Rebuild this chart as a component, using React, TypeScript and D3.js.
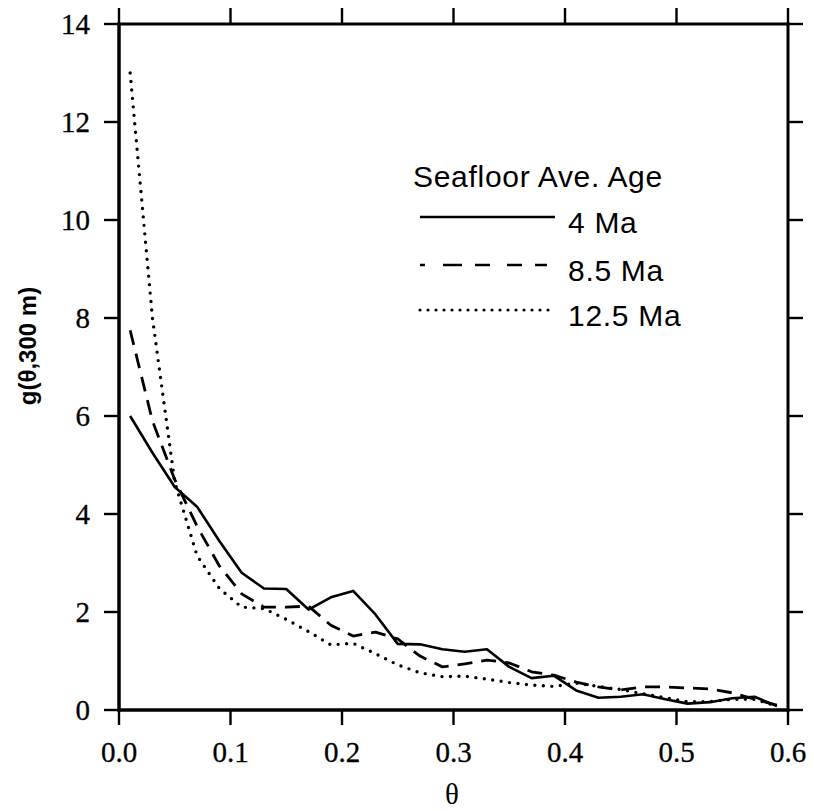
import React from "react";
import * as d3 from "d3";

const theta = [0.01,0.03,0.05,0.07,0.09,0.11,0.13,0.15,0.17,0.19,0.21,0.23,0.25,0.27,0.29,0.31,0.33,0.35,0.37,0.39,0.41,0.43,0.45,0.47,0.49,0.51,0.53,0.55,0.57,0.59];
const g4 = [6.0,5.25,4.55,4.15,3.45,2.80,2.48,2.47,2.05,2.30,2.43,1.95,1.35,1.34,1.24,1.19,1.24,0.88,0.65,0.70,0.40,0.25,0.27,0.32,0.22,0.13,0.16,0.24,0.27,0.08];
const g85 = [7.75,5.9,4.7,3.75,2.94,2.37,2.10,2.10,2.12,1.73,1.51,1.59,1.45,1.10,0.88,0.94,1.02,0.96,0.78,0.71,0.57,0.47,0.41,0.47,0.47,0.45,0.43,0.35,0.22,0.10];
const g125 = [13.0,8.0,4.65,3.15,2.48,2.10,2.07,1.85,1.60,1.33,1.36,1.15,0.92,0.76,0.68,0.69,0.63,0.56,0.51,0.48,0.55,0.48,0.42,0.33,0.25,0.17,0.17,0.22,0.22,0.08];

const xTicks = [0, 0.1, 0.2, 0.3, 0.4, 0.5, 0.6];
const yTicks = [0, 2, 4, 6, 8, 10, 12, 14];
const seriesLabels = ["4 Ma", "8.5 Ma", "12.5 Ma"];
const legendTitle = "Seafloor Ave. Age";

export default function App() {
  const W = 814, H = 811;
  const x = d3.scaleLinear().domain([0, 0.6]).range([119, 788]);
  const y = d3.scaleLinear().domain([0, 14]).range([710, 24]);
  const left = x(0), right = x(0.6), top = y(14), bottom = y(0);
  const line = (vals: number[]) =>
    d3.line<number>().x((_, i) => x(theta[i])).y((v) => y(v))(vals) || "";
  const serif = "'Liberation Serif', 'Times New Roman', serif";
  const sans = "'Liberation Sans', Arial, Helvetica, sans-serif";
  const styles = [
    { dash: undefined as string | undefined, cap: "butt", w: 2.6 },
    { dash: "15 9", cap: "butt", w: 2.8 },
    { dash: "0 8.5", cap: "round", w: 3.4 },
  ];
  const data = [g4, g85, g125];
  const legX0 = 420, legX1 = 555, legY = [217, 265, 310];
  const legDash = [undefined, "5 18 19 13 15 17 15 13 12 200", "0 8"];
  return (
    <svg width={W} height={H} style={{ position: "absolute", left: 0, top: 0, background: "#fff" }}>
      <rect x={0} y={0} width={W} height={H} fill="#fff" />
      {data.map((d, i) => (
        <path key={i} d={line(d)} fill="none" stroke="#000" strokeWidth={styles[i].w}
          strokeDasharray={styles[i].dash} strokeLinecap={styles[i].cap as any} strokeLinejoin="round" />
      ))}
      <line x1={left} x2={left} y1={top - 1.5} y2={bottom + 1.5} stroke="#000" strokeWidth={3.5} />
      <line x1={left - 1.5} x2={right + 1.5} y1={bottom} y2={bottom} stroke="#000" strokeWidth={3.5} />
      <line x1={left - 1.5} x2={right + 1.5} y1={top} y2={top} stroke="#000" strokeWidth={3} />
      <line x1={right} x2={right} y1={top - 1.5} y2={bottom + 1.5} stroke="#000" strokeWidth={3} />
      {xTicks.map((t) => (
        <g key={"x" + t}>
          <line x1={x(t)} x2={x(t)} y1={bottom} y2={bottom + 15} stroke="#000" strokeWidth={2.4} />
          <line x1={x(t)} x2={x(t)} y1={top} y2={top - 16} stroke="#000" strokeWidth={2.4} />
          <text x={x(t)} y={762} textAnchor="middle" fontFamily={serif} fontSize={29} stroke="#000" strokeWidth={0.3}>{t.toFixed(1)}</text>
        </g>
      ))}
      {yTicks.map((t) => (
        <g key={"y" + t}>
          <line x1={left} x2={left - 15} y1={y(t)} y2={y(t)} stroke="#000" strokeWidth={2.4} />
          <line x1={right} x2={right + 15} y1={y(t)} y2={y(t)} stroke="#000" strokeWidth={2.4} />
          <text x={90} y={y(t) + 10} textAnchor="end" fontFamily={serif} fontSize={29} stroke="#000" strokeWidth={0.3}>{t}</text>
        </g>
      ))}
      <text x={452} y={804} textAnchor="middle" fontFamily={serif} fontSize={29}>θ</text>
      <text transform="translate(36,346) rotate(-90)" textAnchor="middle" fontFamily={sans} fontWeight="bold" fontSize={24}>g(θ,300 m)</text>
      <text x={413} y={187} fontFamily={sans} fontSize={30} letterSpacing={0.7}>{legendTitle}</text>
      {seriesLabels.map((lab, i) => (
        <g key={lab}>
          <line x1={legX0} x2={legX1} y1={legY[i]} y2={legY[i]} stroke="#000"
            strokeWidth={i === 2 ? 3.2 : 2.6}
            strokeDasharray={legDash[i]}
            strokeLinecap={i === 2 ? "round" : "butt"} />
          <text x={568} y={legY[i] + 16} fontFamily={sans} fontSize={30} letterSpacing={0.7}>{lab}</text>
        </g>
      ))}
    </svg>
  );
}
